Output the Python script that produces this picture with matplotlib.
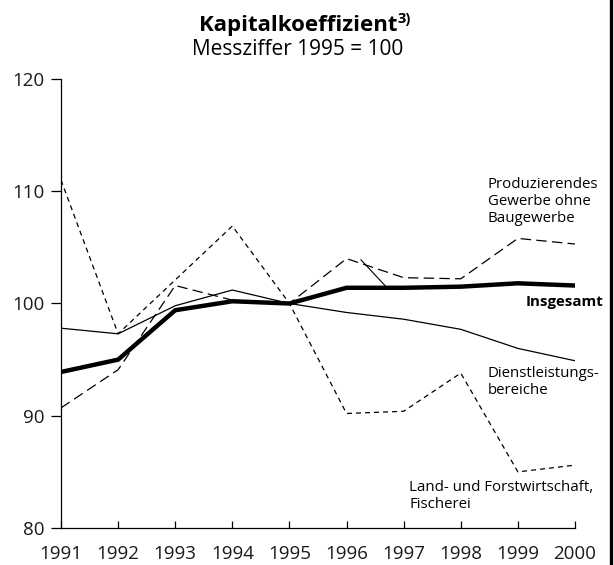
import matplotlib
matplotlib.use("Agg")
import matplotlib.pyplot as plt
from matplotlib.lines import Line2D

plt.rcParams["font.family"] = ["Open Sans", "DejaVu Sans"]
plt.rcParams["lines.scale_dashes"] = False

years = [1991, 1992, 1993, 1994, 1995, 1996, 1997, 1998, 1999, 2000]
insgesamt = [93.9, 95.0, 99.4, 100.2, 100.0, 101.4, 101.4, 101.5, 101.8, 101.6]
dienstleistung = [97.8, 97.3, 99.8, 101.2, 100.0, 99.2, 98.6, 97.7, 96.0, 94.9]
produzierend = [90.7, 94.1, 101.6, 100.3, 100.0, 104.0, 102.3, 102.2, 105.8, 105.3]
landwirtschaft = [111.0, 97.3, 102.1, 106.9, 100.0, 90.2, 90.4, 93.8, 85.0, 85.6]
y_ticks = [80, 90, 100, 110, 120]

fig = plt.figure(figsize=(6.14, 5.65), dpi=100)
ax = fig.add_axes([61 / 614, 1 - 528 / 565, (575 - 61) / 614, (528 - 79) / 565])

ax.plot(years, landwirtschaft, color="black", lw=0.9, dashes=(3.6, 2.9))
ax.plot(years, produzierend, color="black", lw=0.9, dashes=(7.5, 3.8))
ax.plot(years, dienstleistung, color="black", lw=0.9)
ax.plot(years, insgesamt, color="black", lw=3.2, solid_joinstyle="miter")

# kleine Hinweislinie bei 1996
ax.annotate("", xy=(1996.71, 101.4), xytext=(1996.25, 103.9),
            arrowprops=dict(arrowstyle="-", lw=0.8, color="black", shrinkA=0, shrinkB=0))

ax.set_xlim(1991, 2000)
ax.set_ylim(80, 120)
ax.set_xticks(years)
ax.set_yticks(y_ticks)
for s in ["top", "right"]:
    ax.spines[s].set_visible(False)
for s in ["left", "bottom"]:
    ax.spines[s].set_linewidth(0.9)
ax.tick_params(axis="x", direction="in", length=5, width=0.9, labelsize=13.5, pad=12)
ax.tick_params(axis="y", direction="out", length=7, width=0.9, labelsize=13.5, pad=5)
for lab in ax.get_xticklabels() + ax.get_yticklabels():
    lab.set_color("#1a1a1a")

fs = 10.8
ax.text(1998.47, 111.25, "Produzierendes\nGewerbe ohne\nBaugewerbe", fontsize=fs,
        ha="left", va="top", linespacing=1.17)
ax.text(2000.5, 100.15, "Insgesamt", fontsize=fs, fontweight="bold", ha="right", va="center")
ax.text(1998.47, 94.4, "Dienstleistungs-\nbereiche", fontsize=fs,
        ha="left", va="top", linespacing=1.17)
ax.text(1997.1, 84.25, "Land- und Forstwirtschaft,\nFischerei", fontsize=fs,
        ha="left", va="top", linespacing=1.17)

title = fig.text(298 / 614, 1 - 31.5 / 565, "Kapitalkoeffizient", fontsize=16,
                 fontweight="bold", ha="center", va="baseline")
fig.canvas.draw()
bb = title.get_window_extent()
fig.text(bb.x1 / fig.bbox.width + 0.001, 1 - 23 / 565, "3)", fontsize=10.5,
         fontweight="bold", ha="left", va="baseline")
fig.text(298 / 614, 1 - 55 / 565, "Messziffer 1995 = 100", fontsize=15,
         ha="center", va="baseline")

# Rahmenlinie rechts
fig.add_artist(Line2D([611 / 614, 611 / 614], [0, 1], color="black", lw=2.4))

fig.savefig("out.png", dpi=100)
